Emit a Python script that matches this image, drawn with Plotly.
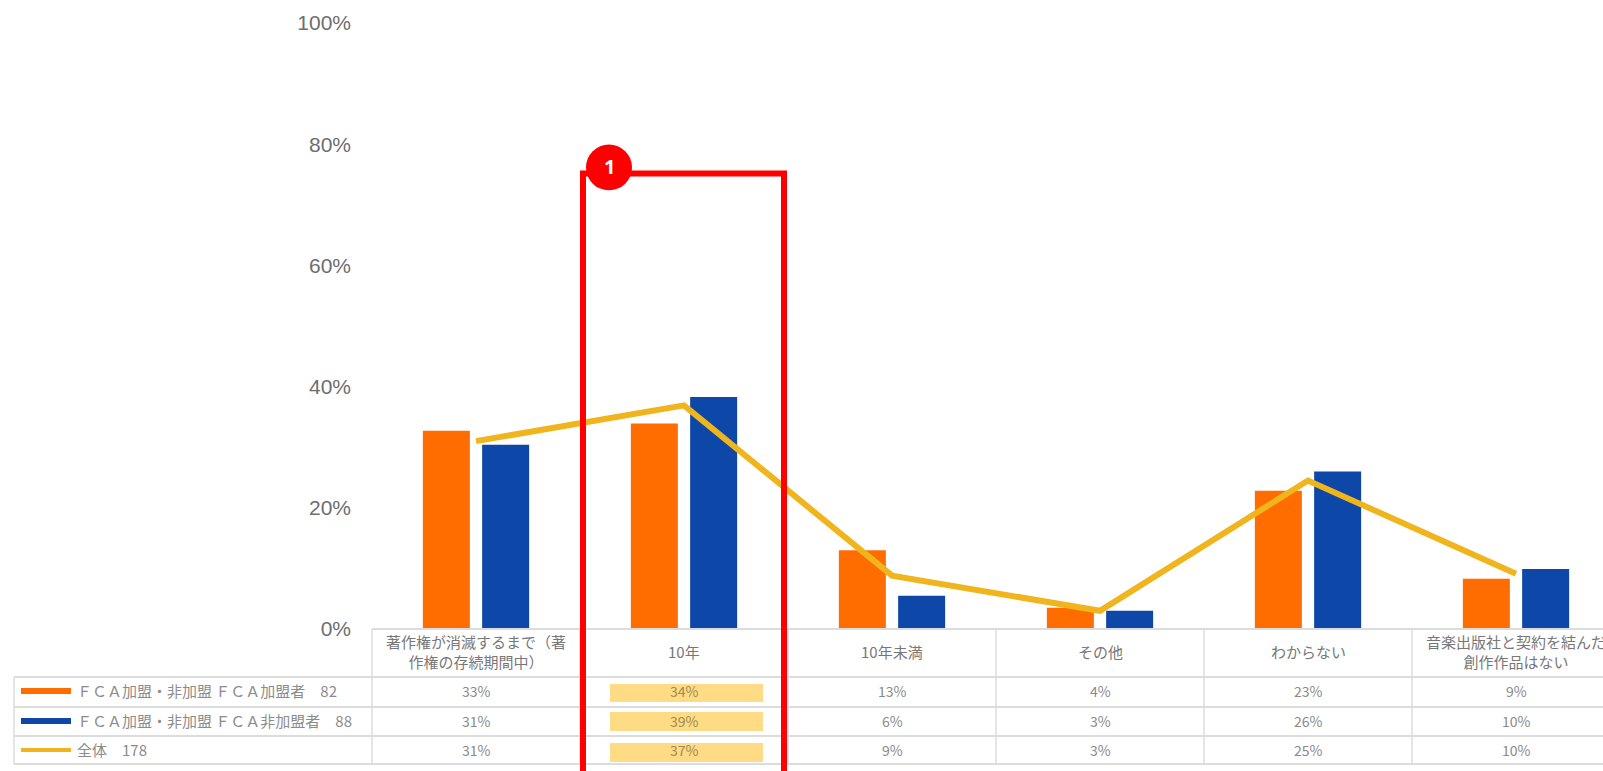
import plotly.graph_objects as go

categories = ["著作権が消滅するまで（著<br>作権の存続期間中）", "10年", "10年未満", "その他", "わからない", "音楽出版社と契約を結んだ<br>創作作品はない"]
series_names = ["ＦＣＡ加盟・非加盟 ＦＣＡ加盟者　82", "ＦＣＡ加盟・非加盟 ＦＣＡ非加盟者　88", "全体　178"]
member = [32.7, 33.9, 13.0, 3.5, 22.8, 8.3]
non_member = [30.4, 38.3, 5.5, 3.0, 26.0, 9.9]
overall = [31.0, 36.9, 8.8, 3.0, 24.5, 9.1]
member_labels = ["33%", "34%", "13%", "4%", "23%", "9%"]
non_member_labels = ["31%", "39%", "6%", "3%", "26%", "10%"]
overall_labels = ["31%", "37%", "9%", "3%", "25%", "10%"]
y_ticks = [0, 20, 40, 60, 80, 100]
highlight_category = 1

W, H = 1603, 771
L, TOP, BOTTOM = 372, 22.5, 629
COL = 208
ORANGE, BLUE, GOLD = "#FF6D00", "#0D47A8", "#F0B41C"
FONT = "Noto Sans CJK JP"
GRID = "#DCDCDC"
TXT = "#8A8A8A"

def px(x):
    return (x - L) / (W - L)

def py(y):
    return (BOTTOM - y) / (BOTTOM - TOP)

xs = list(range(len(categories)))
fig = go.Figure()
fig.add_bar(x=xs, y=member, name=series_names[0], marker=dict(color=ORANGE, line_width=0))
fig.add_bar(x=xs, y=non_member, name=series_names[1], marker=dict(color=BLUE, line_width=0))
fig.add_scatter(x=xs, y=overall, name=series_names[2], mode="lines", line=dict(color=GOLD, width=6))

shapes, annots = [], []

def line(x0, y0, x1, y1, color=GRID, width=1.5):
    shapes.append(dict(type="line", xref="paper", yref="paper", x0=px(x0), y0=py(y0), x1=px(x1), y1=py(y1),
                       line=dict(color=color, width=width)))

def text(x, y, s, size=13, color=TXT, anchor="center", **kw):
    annots.append(dict(xref="paper", yref="paper", x=px(x), y=py(y), text=s, showarrow=False, xanchor=anchor,
                       yanchor="middle", font=dict(family=kw.pop("family", FONT), size=size, color=color), **kw))

row_edges = [677, 707, 736, 764]
row_mid = [691, 721, 750]

# highlighted cells of the table
for y0, y1 in [(684, 702), (712, 731), (743, 762)]:
    shapes.append(dict(type="rect", xref="paper", yref="paper", layer="below",
                       x0=px(L + COL * highlight_category + 30), x1=px(L + COL * highlight_category + 183),
                       y0=py(y0), y1=py(y1), fillcolor="#FFDB85", line_width=0))

# table grid
line(L, BOTTOM, W, BOTTOM, width=2)
for y in row_edges:
    line(14, y, W, y, width=2)
line(14, row_edges[0], 14, row_edges[-1])
for i in range(6):
    line(L + COL * i, BOTTOM, L + COL * i, row_edges[-1])

# table contents
for i, c in enumerate(categories):
    cx = L + COL * (i + 0.5)
    text(cx, 652, c, size=15, color="#777777")
    for y, labels in zip(row_mid, [member_labels, non_member_labels, overall_labels]):
        text(cx, y, labels[i], size=14, color="#A08A50" if i == highlight_category else TXT)

# legend column of the table
for y, name, color, h in zip(row_mid, series_names, [ORANGE, BLUE, GOLD], [6, 6, 4]):
    line(21, y, 71, y, color=color, width=h)
    text(75, y, name, size=15, color="#8C8C8C", anchor="left")

# red call-out
shapes.append(dict(type="path", xref="paper", yref="paper",
                   path=f"M {px(583)} {py(790)} L {px(583)} {py(173)} L {px(784)} {py(173)} L {px(784)} {py(790)}",
                   line=dict(color="#FF0000", width=6)))
shapes.append(dict(type="circle", xref="paper", yref="paper", x0=px(586), x1=px(632), y0=py(144), y1=py(190),
                   fillcolor="#FF0000", line_width=0))
text(609, 166, "<b>1</b>", size=20, color="#FFFFFF", family="Noto Sans")

fig.update_layout(
    width=W, height=H, autosize=False, showlegend=False,
    margin=dict(l=L, r=0, t=TOP, b=H - BOTTOM, pad=0),
    paper_bgcolor="white", plot_bgcolor="white",
    barmode="group", bargap=0.43, bargroupgap=0.207,
    shapes=shapes, annotations=annots,
    xaxis=dict(range=[-0.5, -0.5 + (W - L) / COL], showticklabels=False, showgrid=False, zeroline=False, ticks=""),
    yaxis=dict(range=[0, 100], tickvals=y_ticks, ticktext=[f"{v}%" for v in y_ticks], showgrid=False,
               zeroline=False, showline=False, ticks="", ticklabelstandoff=20,
               tickfont=dict(family="Liberation Sans", size=21, color="#6E6E6E")),
)
fig.write_html("out.html", config={"displayModeBar": False},
               post_script="document.body.style.margin='0';document.body.style.overflow='hidden';")
